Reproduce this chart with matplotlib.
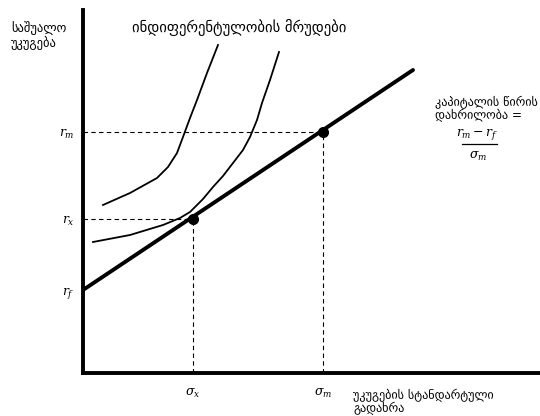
import numpy as np
import matplotlib.pyplot as plt

plt.rcParams['font.family'] = ['DejaVu Sans']
plt.rcParams['mathtext.fontset'] = 'dejavuserif'

# key levels (units: sigma / return, arbitrary scale)
r_f = 0.83
r_x = 1.54
r_m = 2.41
sigma_x = 1.10
sigma_m = 2.40

# capital market line
cml_x = [0.0, 3.30]
cml_y = [0.83, 3.03]

# indifference curves
ic_hi_x = [0.20, 0.47, 0.74, 0.85, 0.94, 1.00, 1.07, 1.14, 1.24, 1.35]
ic_hi_y = [1.68, 1.80, 1.95, 2.06, 2.20, 2.36, 2.55, 2.73, 3.00, 3.28]
ic_lo_x = [0.10, 0.47, 0.80, 0.97, 1.07, 1.20, 1.30, 1.40, 1.50, 1.60,
           1.67, 1.74, 1.79, 1.87, 1.96]
ic_lo_y = [1.31, 1.38, 1.48, 1.55, 1.61, 1.74, 1.86, 1.97, 2.10, 2.23,
           2.36, 2.53, 2.70, 2.93, 3.21]

fig = plt.figure(figsize=(5.4, 4.16), dpi=100)
ax = fig.add_axes([83 / 540, 43 / 416, 457 / 540, 363 / 416])
ax.set_xlim(0, 4.57)
ax.set_ylim(0, 3.63)

for s in ['top', 'right']:
    ax.spines[s].set_visible(False)
for s in ['left', 'bottom']:
    ax.spines[s].set_linewidth(2.8)

ax.plot(cml_x, cml_y, color='black', lw=2.8, solid_capstyle='round')
ax.plot(ic_hi_x, ic_hi_y, color='black', lw=1.3)
ax.plot(ic_lo_x, ic_lo_y, color='black', lw=1.3)

# dashed guides
dash = (0, (4, 3))
ax.plot([0, sigma_x], [r_x, r_x], color='black', lw=0.8, ls=dash)
ax.plot([sigma_x, sigma_x], [0, r_x], color='black', lw=0.8, ls=dash)
ax.plot([0, sigma_m], [r_m, r_m], color='black', lw=0.8, ls=dash)
ax.plot([sigma_m, sigma_m], [0, r_m], color='black', lw=0.8, ls=dash)

ax.plot([sigma_x, sigma_m], [r_x, r_m], 'o', color='black', ms=7)

ax.set_yticks([r_f, r_x, r_m])
ax.set_yticklabels([r'$r_f$', r'$r_x$', r'$r_m$'], fontsize=9)
ax.set_xticks([sigma_x, sigma_m])
ax.set_xticklabels([r'$\sigma_x$', r'$\sigma_m$'], fontsize=9)
ax.tick_params(axis='y', length=0, pad=6)
ax.tick_params(axis='x', length=0, pad=10)

ax.text(-0.72, 3.51, 'საშუალო\nუკუგება', fontsize=9, va='top', ha='left',
        linespacing=1.0, clip_on=False)
ax.text(0.49, 3.45, 'ინდიფერენტულობის მრუდები', fontsize=10.5, va='center',
        ha='left', clip_on=False)
ax.text(3.52, 2.64, 'კაპიტალის წირის\nდახრილობა =', fontsize=8.7, va='center',
        ha='left', linespacing=1.0, clip_on=False)
ax.text(3.94, 2.38, r'$r_m - r_f$', fontsize=9, ha='center', va='center')
ax.plot([3.79, 4.14], [2.29, 2.29], color='black', lw=0.9)
ax.text(3.95, 2.17, r'$\sigma_m$', fontsize=9, ha='center', va='center')
ax.text(2.70, -0.16, 'უკუგების სტანდარტული\nგადახრა', fontsize=8.7, va='top',
        ha='left', linespacing=1.0, clip_on=False)

fig.savefig('out.png', dpi=100)
